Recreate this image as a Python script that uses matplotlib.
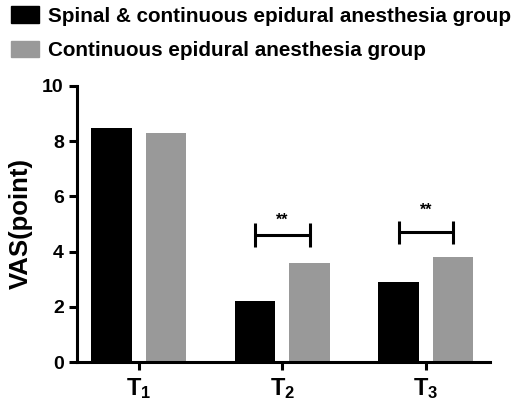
import matplotlib
matplotlib.use("Agg")
import matplotlib.pyplot as plt
from matplotlib.patches import Patch
import numpy as np

plt.rcParams['font.family'] = 'Liberation Sans'
plt.rcParams['font.weight'] = 'bold'
plt.rcParams['mathtext.fontset'] = 'custom'
plt.rcParams['mathtext.rm'] = 'Liberation Sans:bold'
plt.rcParams['mathtext.bf'] = 'Liberation Sans:bold'

# data
timepoints = [r"$\mathbf{T_1}$", r"$\mathbf{T_2}$", r"$\mathbf{T_3}$"]
spinal_vals = [8.48, 2.22, 2.91]
epidural_vals = [8.30, 3.58, 3.82]
series_names = ["Spinal & continuous epidural anesthesia group",
                "Continuous epidural anesthesia group"]
sig_index = [1, 2]
sig_height = [4.6, 4.7]
star_height = [5.15, 5.5]
sig_label = ["**", "**"]

black = "#000000"
gray = "#999999"

fig = plt.figure(figsize=(5.2, 4.05), dpi=100)
ax = fig.add_axes([0.148, 0.106, 0.794, 0.682])

x = np.arange(len(timepoints))
w = 0.28
off = 0.19
ax.bar(x - off, spinal_vals, width=w, color=black)
ax.bar(x + off, epidural_vals, width=w, color=gray)

# significance brackets
for i, h, sh, lab in zip(sig_index, sig_height, star_height, sig_label):
    x0, x1 = i - off, i + off
    ax.plot([x0, x1], [h, h], color="black", lw=2.2, solid_capstyle="butt")
    ax.plot([x0, x0], [h - 0.42, h + 0.42], color="black", lw=2.2, solid_capstyle="butt")
    ax.plot([x1, x1], [h - 0.42, h + 0.42], color="black", lw=2.2, solid_capstyle="butt")
    ax.text(i, sh, lab, ha="center", va="center", fontsize=11.5)

ax.set_xlim(-0.43, 2.446)
ax.set_ylim(0, 10)
ax.set_yticks([0, 2, 4, 6, 8, 10])
ax.set_xticks(x)
ax.set_xticklabels(timepoints, fontsize=17)
ax.set_ylabel("VAS(point)", fontsize=18.5, fontweight="bold", labelpad=7)

for s in ["top", "right"]:
    ax.spines[s].set_visible(False)
for s in ["left", "bottom"]:
    ax.spines[s].set_linewidth(2.2)
ax.tick_params(axis="both", width=2.2, length=6, direction="out")
ax.tick_params(axis="y", labelsize=14)
ax.tick_params(axis="x", pad=4)

handles = [Patch(color=black), Patch(color=gray)]
fig.legend(handles, series_names, loc="upper left", bbox_to_anchor=(0.01, 1.0),
           frameon=False, fontsize=14.9, handlelength=1.35, handleheight=0.87,
           handletextpad=0.4, labelspacing=0.72, borderaxespad=0.1, borderpad=0.2)

fig.savefig("out.png", dpi=100)
